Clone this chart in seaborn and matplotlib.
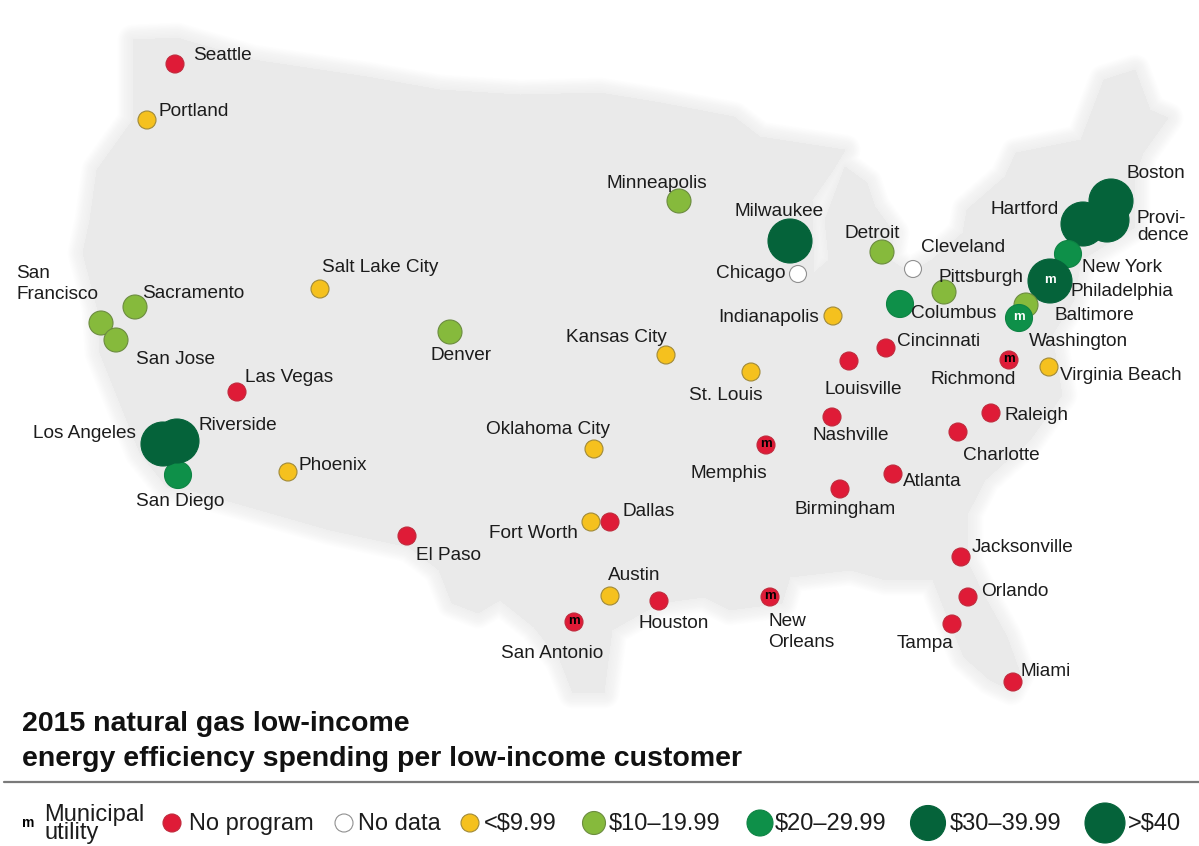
import pandas as pd
import numpy as np
import seaborn as sns
import matplotlib.pyplot as plt
import matplotlib.patheffects as pe

######### data ####################
cities = ["Seattle", "Portland", "Minneapolis", "Milwaukee", "Chicago", "Detroit", "Cleveland",
          "Pittsburgh", "Columbus", "Cincinnati", "Indianapolis", "Kansas City", "St. Louis",
          "Louisville", "Nashville", "Memphis", "Richmond", "Virginia Beach", "Raleigh", "Charlotte",
          "Atlanta", "Birmingham", "Oklahoma City", "Fort Worth", "Dallas", "El Paso", "Austin",
          "Houston", "San Antonio", "New Orleans", "Jacksonville", "Orlando", "Tampa", "Miami",
          "Denver", "Salt Lake City", "Las Vegas", "Phoenix", "Sacramento", "San Francisco",
          "San Jose", "San Diego", "Los Angeles", "Riverside", "Hartford", "Providence", "Boston",
          "New York", "Philadelphia", "Baltimore", "Washington"]
city_x = [175, 147, 679, 790, 798, 882, 913,
          944, 900, 886, 833, 666, 751,
          849, 832, 766, 1009, 1049, 991, 958,
          893, 840, 594, 591, 610, 407, 610,
          659, 574, 770, 961, 968, 952, 1013,
          450, 320, 237, 288, 135, 101,
          116, 178, 163, 177, 1083, 1107, 1111,
          1068, 1050, 1026, 1019]
city_y = [64, 120, 201, 241, 274, 252, 269,
          292, 304, 348, 316, 355, 372,
          361, 417, 445, 360, 367, 413, 432,
          474, 489, 449, 522, 522, 536, 596,
          601, 622, 597, 557, 597, 624, 682,
          332, 289, 392, 472, 307, 323,
          340, 475, 444, 441, 224, 220, 201,
          254, 281, 305, 318]
levels = ["none", "low", "g10", "g40", "nodata", "g10", "nodata",
          "g10", "g20", "none", "low", "low", "low",
          "none", "none", "none", "none", "low", "none", "none",
          "none", "none", "low", "low", "none", "none", "low",
          "none", "none", "none", "none", "none", "none", "none",
          "g10", "low", "none", "low", "g10", "g10",
          "g10", "g20", "g40", "g40", "g40", "g40", "g40",
          "g20", "g40", "g10", "g20"]
municipal = ["Memphis", "Richmond", "San Antonio", "New Orleans", "Philadelphia", "Washington"]

legend_levels = ["none", "nodata", "low", "g10", "g20", "g30", "g40"]
legend_labels = ["No program", "No data", "<$9.99", "$10–19.99", "$20–29.99", "$30–39.99", ">$40"]

# map outline
map_x = [133, 177, 253, 367, 440, 520, 600, 661, 734, 760, 845, 833, 812, 814, 829, 825, 845, 867,
         875, 894, 890, 910, 932, 963, 967, 1005, 1016, 1081, 1104, 1135, 1150, 1168, 1143, 1135,
         1135, 1081, 1074, 1052, 1062, 1030, 985, 968, 968, 981, 1007, 1020, 1011, 990, 964, 946,
         933, 886, 851, 790, 782, 730, 704, 660, 612, 604, 573, 560, 534, 500, 478, 452, 439, 409,
         330, 190, 167, 140, 120, 100, 97, 83, 90, 97, 133]
map_y = [40, 38, 60, 77, 90, 95, 93, 103, 117, 137, 150, 170, 200, 273, 260, 220, 167, 183,
         207, 233, 260, 273, 260, 233, 210, 177, 153, 140, 80, 70, 110, 118, 153, 177,
         227, 260, 300, 335, 395, 440, 480, 513, 563, 590, 637, 673, 690, 680, 657, 613,
         580, 580, 570, 577, 603, 610, 597, 603, 630, 693, 693, 660, 627, 600, 613, 603, 570, 547,
         530, 490, 487, 453, 403, 353, 307, 253, 220, 170, 120]

######### style ####################
colors = {"none": "#DF1B37", "nodata": "#FFFFFF", "low": "#F5C11E", "g10": "#86BA3C",
          "g20": "#0E9049", "g30": "#05633A", "g40": "#05633A"}
map_sizes = {"none": 18, "nodata": 17, "low": 18, "g10": 24, "g20": 27, "g30": 34, "g40": 44}
legend_sizes = {"none": 18, "nodata": 18, "low": 18, "g10": 23, "g20": 26, "g30": 35, "g40": 40}
edges = {"none": "#C02A3C", "nodata": "#909090", "low": "#A08A3A", "g10": "#6C8C40",
         "g20": "#0E8344", "g30": "#05633A", "g40": "#05633A"}
LAND = "#EAEAEA"
INK = "#1c1c1c"


def area(px):
    # marker diameter in pixels -> scatter area in points^2
    return (px * 0.72) ** 2


sns.set_theme(style="white")
plt.rcParams['font.family'] = ['Liberation Sans', 'DejaVu Sans']

fig = plt.figure(figsize=(11.99, 8.46), dpi=100)
ax = fig.add_axes([0, 0, 1, 1])

# soft-edged map: a stack of faint strokes fades the edge out
land = ax.fill(map_x, map_y, color=LAND, lw=0, zorder=1)[0]
land.set_path_effects([pe.Stroke(linewidth=w, foreground=LAND, alpha=0.09, joinstyle="round")
                       for w in range(22, 0, -2)] + [pe.Normal()])

######### markers ####################
df = pd.DataFrame({"city": cities, "x": city_x, "y": city_y, "level": levels})
df["edge"] = df["level"].map(edges)
sns.scatterplot(data=df, x="x", y="y", hue="level", palette=colors, size="level",
                sizes={k: area(v) for k, v in map_sizes.items() if k in levels},
                edgecolor=df["edge"], linewidth=0.8, legend=False, ax=ax, zorder=3)

for name in municipal:
    row = df[df["city"] == name].iloc[0]
    col = "black" if row["level"] == "none" else "white"
    ax.text(row["x"], row["y"] - 1, "m", color=col, fontsize=9.5, fontweight="bold",
            ha="center", va="center", zorder=4)

######### labels ####################
labels = [("Seattle", 193, 54), ("Portland", 159, 110), ("Minneapolis", 606, 181), ("Milwaukee", 734, 209),
          ("Detroit", 845, 232), ("Cleveland", 921, 246), ("Chicago", 716, 271), ("Hartford", 990, 207),
          ("Boston", 1126, 172), ("New York", 1082, 265),
          ("Philadelphia", 1070, 289), ("Baltimore", 1055, 313), ("Washington", 1029, 340),
          ("Pittsburgh", 938, 275), ("Columbus", 911, 312), ("Cincinnati", 897, 340),
          ("Indianapolis", 718, 316), ("Kansas City", 566, 335), ("St. Louis", 689, 394),
          ("Louisville", 824, 387), ("Richmond", 930, 377), ("Virginia Beach", 1060, 374),
          ("Raleigh", 1004, 413), ("Nashville", 812, 434), ("Charlotte", 963, 453), ("Atlanta", 903, 479),
          ("Birmingham", 794, 507), ("Memphis", 691, 471), ("Oklahoma City", 486, 427), ("Dallas", 622, 509),
          ("Fort Worth", 489, 532), ("El Paso", 416, 553), ("Austin", 608, 573), ("Houston", 639, 622),
          ("San Antonio", 501, 651), ("Jacksonville", 972, 545),
          ("Orlando", 981, 590), ("Tampa", 897, 642), ("Miami", 1021, 670), ("Denver", 431, 353),
          ("Salt Lake City", 322, 266), ("Las Vegas", 245, 375), ("Phoenix", 298, 464),
          ("Riverside", 198, 423), ("Los Angeles", 33, 431), ("San Diego", 136, 499),
          ("San Jose", 136, 357), ("Sacramento", 142, 291)]
for text, lx, ly in labels:
    ax.text(lx, ly + 2, text, fontsize=13.7, color=INK, ha="left", va="center", zorder=5)

# the wrapped labels have their own line gaps
ax.text(1137, 227, "Provi-\ndence", fontsize=13.7, color=INK, va="center", linespacing=0.95, zorder=5)
ax.text(768, 632, "New\nOrleans", fontsize=13.7, color=INK, va="center", linespacing=1.25, zorder=5)
ax.text(16, 284, "San\nFrancisco", fontsize=13.7, color=INK, va="center", linespacing=1.25, zorder=5)

######### title ####################
ax.text(22, 724, "2015 natural gas low-income", fontsize=20.5, fontweight="bold", color="#111111", va="center")
ax.text(22, 759, "energy efficiency spending per low-income customer", fontsize=20.5, fontweight="bold",
        color="#111111", va="center")
ax.plot([4, 1199], [782, 782], color="#7a7a7a", lw=1.6, zorder=2)

######### legend ####################
legend_dot_x = [172, 344, 470, 594, 760, 928, 1105]
legend_text_x = [189, 358, 484, 609, 775, 950, 1128]
leg = pd.DataFrame({"x": legend_dot_x, "y": [823] * 7, "level": legend_levels})
sns.scatterplot(data=leg, x="x", y="y", hue="level", palette=colors, size="level",
                sizes={k: area(v) for k, v in legend_sizes.items()},
                edgecolor=leg["level"].map(edges), linewidth=0.8, legend=False, ax=ax, zorder=3)
for tx, lab in zip(legend_text_x, legend_labels):
    ax.text(tx, 824, lab, fontsize=17, color=INK, ha="left", va="center", parse_math=False)
ax.text(28, 823, "m", fontsize=10, fontweight="bold", color="black", ha="center", va="center")
ax.text(44, 824, "Municipal\nutility", fontsize=17, color=INK, ha="left", va="center", linespacing=0.78)

ax.set_xlim(0, 1199)
ax.set_ylim(846, 0)
ax.axis("off")
fig.savefig("out.png", dpi=100, facecolor="white")
